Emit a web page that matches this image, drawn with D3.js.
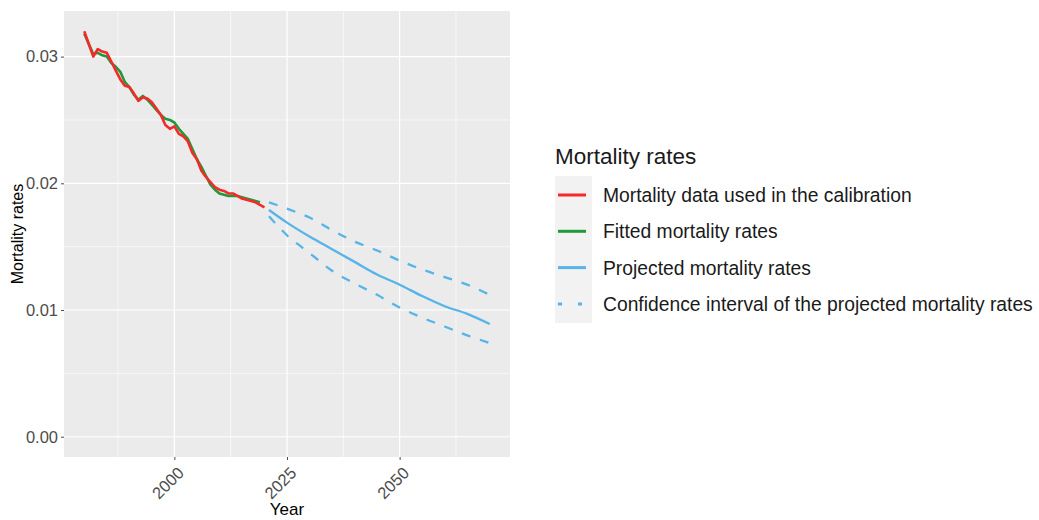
<!DOCTYPE html>
<html>
<head>
<meta charset="utf-8">
<script src="https://cdn.jsdelivr.net/npm/d3@7"></script>
<style>
  body { margin: 0; background: #fff; }
  svg { font-family: "Liberation Sans", Arial, sans-serif; }
</style>
</head>
<body>
<div id="chart"></div>
<script>
// observed data 1980-2020
const histYears = d3.range(1980, 2021);
const observed = [
  0.0320, 0.0310, 0.0300, 0.0306, 0.0304, 0.0303, 0.0296, 0.0289, 0.0282, 0.0277,
  0.0276, 0.0271, 0.0265, 0.0268, 0.0267, 0.0264, 0.0259, 0.0254, 0.0246, 0.0243,
  0.0245, 0.0239, 0.0237, 0.0233, 0.0224, 0.0219, 0.0210, 0.0205, 0.0201, 0.0197,
  0.0195, 0.0194, 0.0192, 0.0192, 0.0190, 0.0188, 0.0187, 0.0186, 0.0185, 0.0183,
  0.0181
];
// fitted 1980-2019
const fitYears = d3.range(1980, 2020);
const fitted = [
  0.0318, 0.0310, 0.0302, 0.0303, 0.0301, 0.0300, 0.0295, 0.0292, 0.0288, 0.0280,
  0.0276, 0.0270, 0.0266, 0.0269, 0.0266, 0.0262, 0.0258, 0.0254, 0.0251, 0.0250,
  0.0248, 0.0243, 0.0239, 0.0235, 0.0227, 0.0219, 0.0213, 0.0206, 0.0199, 0.0195,
  0.0192, 0.0191, 0.0190, 0.0190, 0.0190, 0.0189, 0.0188, 0.0187, 0.0186, 0.0185
];
// projection
const projYears = [2021, 2025, 2030, 2035, 2040, 2045, 2050, 2055, 2060, 2065, 2070];
const projected = [0.0179, 0.0169, 0.0158, 0.0148, 0.0138, 0.0128, 0.0120, 0.0111, 0.0103, 0.0097, 0.0089];
const upperCI = [0.0185, 0.0180, 0.0173, 0.0163, 0.0154, 0.0147, 0.0139, 0.0132, 0.0126, 0.0120, 0.0112];
const lowerCI = [0.0174, 0.0159, 0.0145, 0.0131, 0.0121, 0.0112, 0.0102, 0.0094, 0.0087, 0.0080, 0.0074];

const xTicks = [2000, 2025, 2050];
const xMinor = [1987.5, 2012.5, 2037.5, 2062.5];
const yTicks = [0, 0.01, 0.02, 0.03];
const yMinor = [0.005, 0.015, 0.025];

const legendTitle = 'Mortality rates';
const legendItems = [
  { label: 'Mortality data used in the calibration', color: '#f42a2a', dash: null },
  { label: 'Fitted mortality rates', color: '#1e9a3a', dash: null },
  { label: 'Projected mortality rates', color: '#56b4e9', dash: null },
  { label: 'Confidence interval of the projected mortality rates', color: '#56b4e9', dash: '4,16' }
];

const width = 1039, height = 520;
const panel = { left: 64, right: 510, top: 11, bottom: 457 };

const svg = d3.select('#chart').append('svg')
  .attr('width', width)
  .attr('height', height);

const x = d3.scaleLinear()
  .domain([1975.5, 2074.5])
  .range([panel.left, panel.right]);
const y = d3.scaleLinear()
  .domain([-0.0016, 0.0336])
  .range([panel.bottom, panel.top]);

svg.append('rect')
  .attr('x', panel.left)
  .attr('y', panel.top)
  .attr('width', panel.right - panel.left)
  .attr('height', panel.bottom - panel.top)
  .attr('fill', '#ebebeb');

// grid
const grid = svg.append('g');
grid.selectAll('.xminor').data(xMinor).enter().append('line')
  .attr('x1', d => x(d)).attr('x2', d => x(d))
  .attr('y1', panel.top).attr('y2', panel.bottom)
  .attr('stroke', '#fff').attr('stroke-width', 0.6);
grid.selectAll('.yminor').data(yMinor).enter().append('line')
  .attr('y1', d => y(d)).attr('y2', d => y(d))
  .attr('x1', panel.left).attr('x2', panel.right)
  .attr('stroke', '#fff').attr('stroke-width', 0.6);
grid.selectAll('.xmajor').data(xTicks).enter().append('line')
  .attr('x1', d => x(d)).attr('x2', d => x(d))
  .attr('y1', panel.top).attr('y2', panel.bottom)
  .attr('stroke', '#fff').attr('stroke-width', 1.2);
grid.selectAll('.ymajor').data(yTicks).enter().append('line')
  .attr('y1', d => y(d)).attr('y2', d => y(d))
  .attr('x1', panel.left).attr('x2', panel.right)
  .attr('stroke', '#fff').attr('stroke-width', 1.2);

// axes
const yAxis = svg.append('g')
  .attr('transform', `translate(${panel.left},0)`)
  .call(d3.axisLeft(y).tickValues(yTicks).tickFormat(d3.format('.2f')).tickSize(3).tickPadding(3));
yAxis.select('.domain').remove();
yAxis.selectAll('line').attr('stroke', '#4d4d4d');
yAxis.selectAll('text').attr('fill', '#4d4d4d').style('font-size', '16.5px');

const xAxis = svg.append('g')
  .attr('transform', `translate(0,${panel.bottom})`)
  .call(d3.axisBottom(x).tickValues(xTicks).tickFormat(d3.format('d')).tickSize(3));
xAxis.select('.domain').remove();
xAxis.selectAll('line').attr('stroke', '#4d4d4d');
xAxis.selectAll('text')
  .attr('fill', '#4d4d4d')
  .style('font-size', '16.5px')
  .attr('y', 0).attr('dy', 0)
  .attr('text-anchor', 'end')
  .attr('transform', 'translate(10,17) rotate(-45)');

svg.append('text')
  .text('Year')
  .attr('x', (panel.left + panel.right) / 2)
  .attr('y', 515)
  .attr('text-anchor', 'middle')
  .style('font-size', '17px')
  .attr('fill', '#000');

svg.append('text')
  .text('Mortality rates')
  .attr('transform', `translate(23,${(panel.top + panel.bottom) / 2}) rotate(-90)`)
  .attr('text-anchor', 'middle')
  .style('font-size', '16px')
  .attr('fill', '#000');

// lines
const line = d3.line().x(d => x(d[0])).y(d => y(d[1]));
const plot = svg.append('g');

plot.append('path')
  .datum(projYears.map((yr, i) => [yr, upperCI[i]]))
  .attr('d', line.curve(d3.curveMonotoneX))
  .attr('fill', 'none').attr('stroke', legendItems[3].color)
  .attr('stroke-width', 2.3).attr('stroke-dasharray', '9,10');
plot.append('path')
  .datum(projYears.map((yr, i) => [yr, lowerCI[i]]))
  .attr('d', line.curve(d3.curveMonotoneX))
  .attr('fill', 'none').attr('stroke', legendItems[3].color)
  .attr('stroke-width', 2.3).attr('stroke-dasharray', '9,10');
plot.append('path')
  .datum(projYears.map((yr, i) => [yr, projected[i]]))
  .attr('d', line.curve(d3.curveMonotoneX))
  .attr('fill', 'none').attr('stroke', legendItems[2].color)
  .attr('stroke-width', 2.3);

line.curve(d3.curveLinear);
plot.append('path')
  .datum(fitYears.map((yr, i) => [yr, fitted[i]]))
  .attr('d', line)
  .attr('fill', 'none').attr('stroke', legendItems[1].color)
  .attr('stroke-width', 2.6).attr('stroke-linejoin', 'round');
plot.append('path')
  .datum(histYears.map((yr, i) => [yr, observed[i]]))
  .attr('d', line)
  .attr('fill', 'none').attr('stroke', legendItems[0].color)
  .attr('stroke-width', 2.6).attr('stroke-linejoin', 'round');

// legend
const legend = svg.append('g').attr('transform', 'translate(555,0)');
legend.append('text')
  .text(legendTitle)
  .attr('x', 0).attr('y', 164)
  .style('font-size', '22.5px')
  .attr('fill', '#1a1a1a');
legend.append('rect')
  .attr('x', 0).attr('y', 176)
  .attr('width', 37).attr('height', 147)
  .attr('fill', '#f2f2f2');
const rows = legend.selectAll('.row').data(legendItems).enter().append('g')
  .attr('transform', (d, i) => `translate(0,${195 + i * 36.3})`);
rows.append('line')
  .attr('x1', 3).attr('x2', 31)
  .attr('stroke', d => d.color)
  .attr('stroke-width', 3)
  .attr('stroke-dasharray', d => d.dash);
rows.append('text')
  .text(d => d.label)
  .attr('x', 48).attr('y', 7)
  .style('font-size', '19.3px')
  .attr('fill', '#1a1a1a');
</script>
</body>
</html>
